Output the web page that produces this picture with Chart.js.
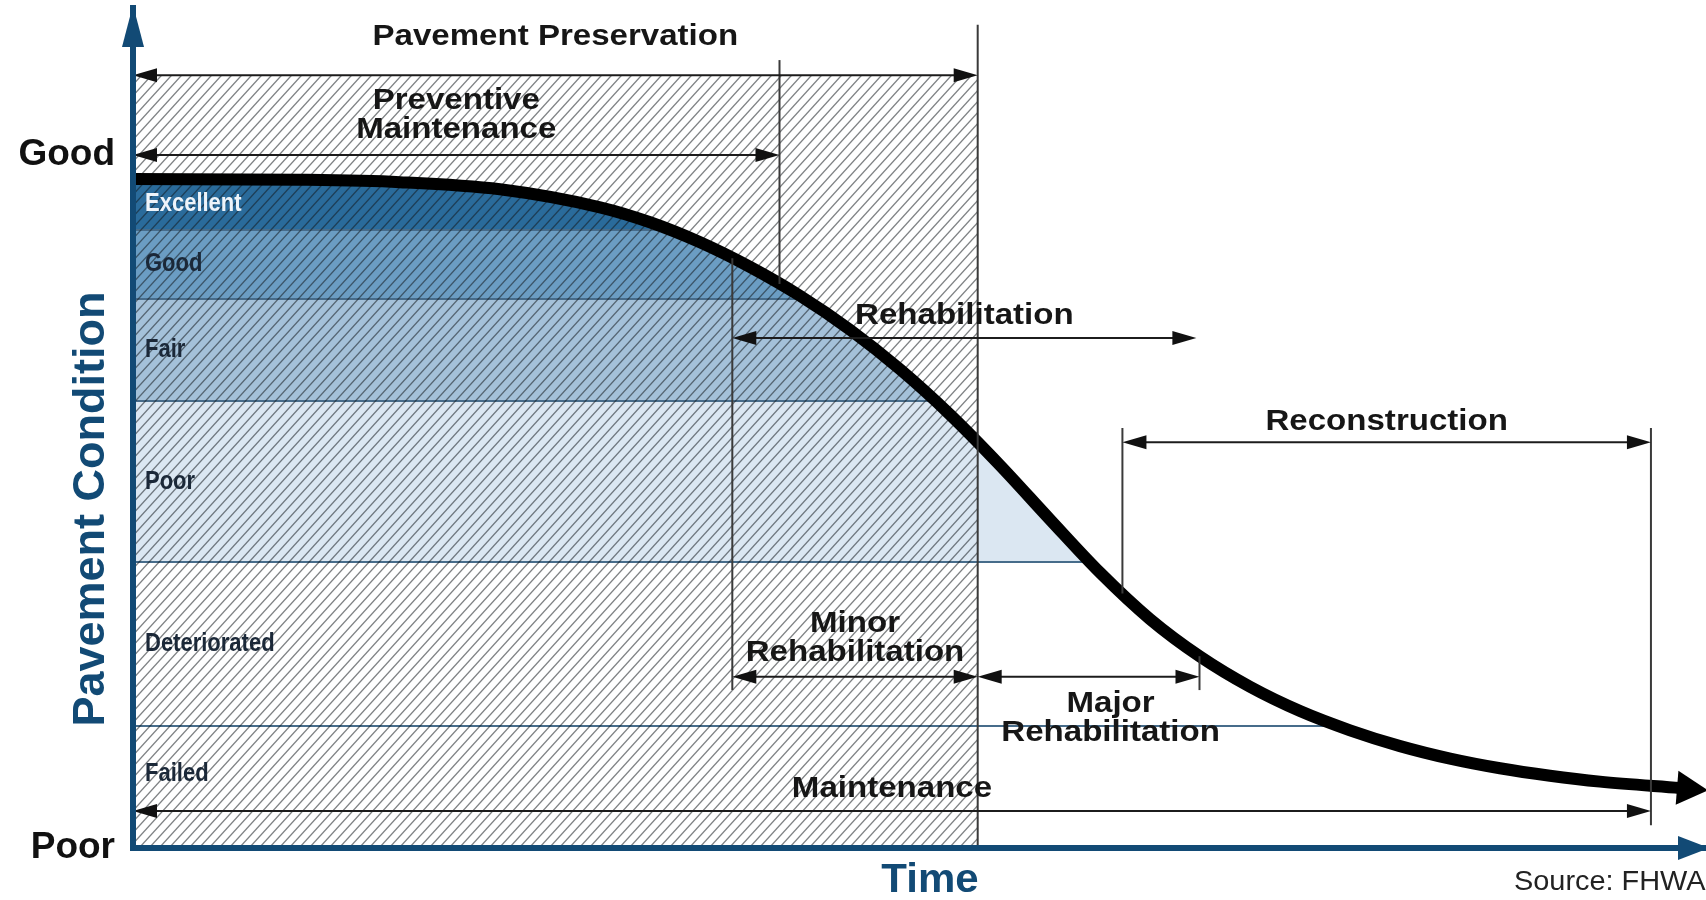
<!DOCTYPE html>
<html>
<head>
<meta charset="utf-8">
<title>Pavement Condition over Time</title>
<script src="https://cdn.jsdelivr.net/npm/chart.js@4.4.1/dist/chart.umd.min.js"></script>
<style>
  html, body { margin:0; padding:0; background:#ffffff; overflow:hidden; }
  canvas { display:block; }
</style>
</head>
<body>
<canvas id="chart" width="1706" height="900"></canvas>
<script>
// ---------------- data ----------------
// pavement deterioration curve: time (0-100) vs condition (0-100)
const curveTime      = [0, 10.62, 16.97, 23.33, 29.69, 32.87, 36.05, 39.22, 42.40, 45.58, 48.76, 51.94, 55.12, 58.30, 61.47, 64.65, 67.83, 71.01, 74.19, 77.37, 80.55, 83.73, 86.90, 90.08, 93.26, 98.35];
const curveCondition = [79.64, 79.55, 79.27, 78.42, 76.27, 74.49, 72.11, 69.18, 65.74, 61.70, 56.99, 51.60, 45.56, 39.10, 32.79, 27.25, 22.79, 19.19, 16.30, 14.01, 12.13, 10.64, 9.49, 8.60, 7.90, 7.14];

// condition bands
const bandNames  = ['Excellent', 'Good', 'Fair', 'Poor', 'Deteriorated', 'Failed'];
const bandTop    = [100, 73.6, 65.4, 53.2, 34.0, 14.5];
const bandBottom = [73.6, 65.4, 53.2, 34.0, 14.5, 0];
const bandColors = ['#2a6b9b', '#6b9dc3', '#a4c1d9', '#dbe7f2', 'rgba(255,255,255,0)', 'rgba(255,255,255,0)'];

// y axis tick labels
const yTickValues = [0, 82.5];
const yTickLabels = ['Poor', 'Good'];

// treatment spans (time ranges with double arrows)
const spanLabels = ['Pavement Preservation', 'Preventive\nMaintenance', 'Rehabilitation', 'Minor\nRehabilitation', 'Major\nRehabilitation', 'Reconstruction', 'Maintenance'];
const spanStart  = [0, 0, 38.1, 38.1, 53.7, 62.9, 0];
const spanEnd    = [53.7, 41.1, 67.6, 53.7, 67.8, 96.5, 96.5];
const spanLevel  = [92.0, 82.5, 60.7, 20.4, 20.4, 48.3, 4.4];

// vertical guide lines (null = meets the curve)
const guideTime = [53.7, 41.1, 38.1, 67.8, 62.9, 96.5];
const guideFrom = [98.0, 93.8, null, null, 50.0, 50.0];
const guideTo   = [0, null, 18.8, 18.8, null, 2.7];

const axisTitleY = 'Pavement Condition';
const axisTitleX = 'Time';
const sourceNote = 'Source: FHWA';

// ---------------- styles ----------------
const NAVY = '#124a75';
const FONT = '"Liberation Sans", Arial, Helvetica, sans-serif';
const INK = '#161616';
const labelSide   = ['above', 'above', 'above', 'above', 'below', 'above', 'above'];
const labelGap    = [38, 25, 22, 24, 27, 20, 22];
const labelShiftX = [0, 0, 0, 0, 22, 0, 0];

const curvePts = curveTime.map((t, i) => ({ x: t, y: curveCondition[i] }));
const hatchPts = [{ x: spanStart[0], y: spanLevel[0] }, { x: spanEnd[0], y: spanLevel[0] }];

const canvas = document.getElementById('chart');
const mainCtx = canvas.getContext('2d');

function makeHatch() {
  const W = 10, H = 11;
  const c = document.createElement('canvas');
  c.width = W; c.height = H;
  const g = c.getContext('2d');
  g.strokeStyle = 'rgba(20,25,30,0.55)';
  g.lineWidth = 1.3;
  for (const o of [-W, 0, W]) {
    g.beginPath();
    g.moveTo(o - W * 0.5, H * 1.5);
    g.lineTo(o + W * 1.5, -H * 0.5);
    g.stroke();
  }
  return mainCtx.createPattern(c, 'repeat');
}
const hatchPattern = makeHatch();

function bandGradient(context) {
  const chart = context.chart;
  const area = chart.chartArea;
  if (!area) return null;
  const ys = chart.scales.y;
  const top = ys.getPixelForValue(100), bottom = ys.getPixelForValue(0);
  const h = bottom - top;
  const f = v => Math.min(1, Math.max(0, (ys.getPixelForValue(v) - top) / h));
  const d = 1 / h;
  const lineCol = 'rgba(38,82,118,0.85)';
  const g = chart.ctx.createLinearGradient(0, top, 0, bottom);
  g.addColorStop(f(bandTop[0]), bandColors[0]);
  for (let i = 0; i < bandNames.length; i++) {
    if (i < bandNames.length - 1) {
      const fb = f(bandBottom[i]);
      g.addColorStop(Math.max(0, fb - d), bandColors[i]);
      g.addColorStop(Math.max(0, fb - d), lineCol);
      g.addColorStop(Math.min(1, fb + d), lineCol);
      g.addColorStop(Math.min(1, fb + d), bandColors[i + 1]);
    } else {
      g.addColorStop(f(bandBottom[i]), bandColors[i]);
    }
  }
  return g;
}

function curveAt(t) {
  if (t <= curveTime[0]) return curveCondition[0];
  for (let i = 1; i < curveTime.length; i++) {
    if (t <= curveTime[i]) {
      const r = (t - curveTime[i - 1]) / (curveTime[i] - curveTime[i - 1]);
      return curveCondition[i - 1] + r * (curveCondition[i] - curveCondition[i - 1]);
    }
  }
  return curveCondition[curveCondition.length - 1];
}

function drawText(ctx, str, x, y, size, weight, color, sx, align) {
  ctx.save();
  ctx.font = `${weight} ${size}px ${FONT}`;
  ctx.fillStyle = color;
  ctx.textAlign = align;
  ctx.textBaseline = 'middle';
  ctx.translate(x, y);
  ctx.scale(sx, 1);
  ctx.fillText(str, 0, 0);
  ctx.restore();
}

function head(ctx, tx, ty, dx, dy, len, half) {
  const nx = -dy, ny = dx;
  const bx = tx - dx * len, by = ty - dy * len;
  ctx.beginPath();
  ctx.moveTo(tx, ty);
  ctx.lineTo(bx + nx * half, by + ny * half);
  ctx.lineTo(bx - nx * half, by - ny * half);
  ctx.closePath();
  ctx.fill();
}

const overlay = {
  id: 'overlay',
  afterDatasetsDraw(chart) {
    const ctx = chart.ctx;
    const X = v => chart.scales.x.getPixelForValue(v);
    const Y = v => chart.scales.y.getPixelForValue(v);
    ctx.save();
    // vertical guides
    ctx.strokeStyle = '#3a3a3a';
    ctx.lineWidth = 2;
    guideTime.forEach((t, i) => {
      const y1 = Y(guideFrom[i] === null ? curveAt(t) : guideFrom[i]);
      const y2 = Y(guideTo[i] === null ? curveAt(t) : guideTo[i]);
      ctx.beginPath();
      ctx.moveTo(X(t), y1);
      ctx.lineTo(X(t), y2);
      ctx.stroke();
    });
    // double arrows
    ctx.strokeStyle = '#1c1c1c';
    ctx.fillStyle = '#111';
    ctx.lineWidth = 2;
    spanStart.forEach((s, i) => {
      const x1 = X(s), x2 = X(spanEnd[i]), y = Y(spanLevel[i]);
      ctx.beginPath();
      ctx.moveTo(x1 + 6, y);
      ctx.lineTo(x2 - 6, y);
      ctx.stroke();
      head(ctx, x1, y, -1, 0, 24, 7);
      head(ctx, x2, y, 1, 0, 24, 7);
    });
    ctx.restore();
  },
  afterDraw(chart) {
    const ctx = chart.ctx;
    const area = chart.chartArea;
    const X = v => chart.scales.x.getPixelForValue(v);
    const Y = v => chart.scales.y.getPixelForValue(v);
    ctx.save();
    // axis arrowheads
    ctx.fillStyle = NAVY;
    head(ctx, area.left, area.top - 3, 0, -1, 42, 11);
    head(ctx, area.right + 3, area.bottom, 1, 0, 31, 12);
    // curve arrowhead
    const meta = chart.getDatasetMeta(0);
    const n = meta.data.length;
    const p1 = meta.data[n - 1], p0 = meta.data[n - 2];
    let dx = p1.x - p0.x, dy = p1.y - p0.y;
    const L = Math.hypot(dx, dy); dx /= L; dy /= L;
    ctx.fillStyle = '#000';
    head(ctx, p1.x + dx * 28, p1.y + dy * 28, dx, dy, 31, 17);
    ctx.restore();

    // band labels
    bandNames.forEach((name, i) => {
      const top = i === 0 ? curveCondition[0] : bandTop[i];
      const bot = Math.max(bandBottom[i], 3);
      drawText(ctx, name, area.left + 12, Y((top + bot) / 2), 25, 'bold', i === 0 ? '#eef4fa' : '#1b2838', 0.88, 'left');
    });

    // span labels
    spanLabels.forEach((lab, i) => {
      const lines = lab.split('\n');
      const cx = (X(spanStart[i]) + X(spanEnd[i])) / 2 + labelShiftX[i];
      const ay = Y(spanLevel[i]);
      const lh = 29;
      const firstY = labelSide[i] === 'above' ? ay - labelGap[i] - (lines.length - 1) * lh : ay + labelGap[i];
      lines.forEach((ln, k) => drawText(ctx, ln, cx, firstY + k * lh, 29, 'bold', INK, 1.14, 'center'));
    });

    // axis titles & source
    ctx.save();
    ctx.translate(92, (area.top + area.bottom) / 2 + 81);
    ctx.rotate(-Math.PI / 2);
    drawText(ctx, axisTitleY, 0, 0, 45, 'bold', NAVY, 1, 'center');
    ctx.restore();
    drawText(ctx, axisTitleX, 930, 881, 40, 'bold', NAVY, 1.05, 'center');
    drawText(ctx, sourceNote, 1514, 883, 27, 'normal', '#222', 1.07, 'left');
  }
};

new Chart(mainCtx, {
  type: 'line',
  data: {
    datasets: [
      {
        label: 'Pavement condition',
        data: curvePts,
        borderColor: '#000000',
        borderWidth: 12,
        borderCapStyle: 'butt',
        fill: false,
        pointRadius: 0,
        cubicInterpolationMode: 'monotone',
        order: 0
      },
      {
        label: 'Pavement preservation window',
        data: hatchPts,
        borderColor: 'rgba(0,0,0,0)',
        borderWidth: 0,
        backgroundColor: hatchPattern,
        fill: 'start',
        pointRadius: 0,
        order: 1
      },
      {
        label: 'Condition bands',
        data: curvePts,
        borderColor: 'rgba(0,0,0,0)',
        borderWidth: 0,
        backgroundColor: bandGradient,
        fill: 'start',
        pointRadius: 0,
        cubicInterpolationMode: 'monotone',
        order: 2
      }
    ]
  },
  options: {
    responsive: false,
    animation: false,
    events: [],
    layout: { padding: { top: 8, right: 0, bottom: 0, left: 0 } },
    plugins: {
      legend: { display: false },
      tooltip: { enabled: false },
      filler: { propagate: false }
    },
    scales: {
      x: {
        type: 'linear',
        min: 0,
        max: 100,
        grid: { display: false, drawTicks: false },
        ticks: { display: false },
        border: { display: true, color: NAVY, width: 6, z: 1 },
        afterFit: s => { s.height = 52; s.paddingLeft = 0; s.paddingRight = 0; }
      },
      y: {
        type: 'linear',
        min: 0,
        max: 100,
        grid: { display: false, drawTicks: false },
        border: { display: true, color: NAVY, width: 6, z: 1 },
        afterBuildTicks: s => { s.ticks = yTickValues.map(v => ({ value: v })); },
        ticks: {
          padding: 18,
          color: '#111',
          font: { family: FONT, size: 37, weight: 'bold' },
          callback: (v, i) => yTickLabels[i]
        },
        afterFit: s => { s.width = 133; s.paddingTop = 0; s.paddingBottom = 0; }
      }
    }
  },
  plugins: [overlay]
});
</script>
</body>
</html>
